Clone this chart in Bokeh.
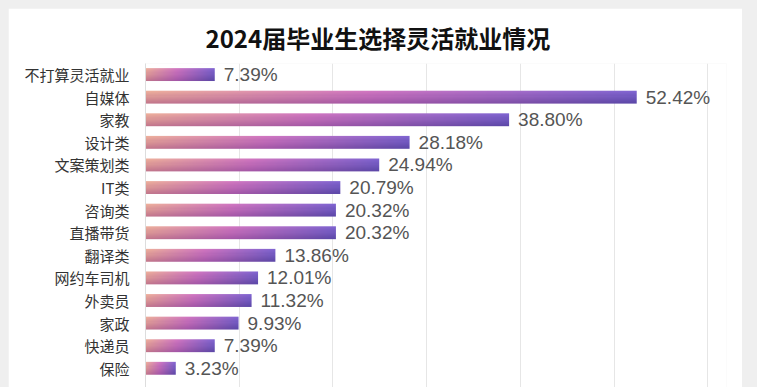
import numpy as np
from bokeh.plotting import figure
from bokeh.models import Range1d, FixedTicker, ColumnDataSource
from bokeh.embed import file_html
from bokeh.resources import INLINE

title_text = "2024届毕业生选择灵活就业情况"
categories = ["不打算灵活就业", "自媒体", "家教", "设计类", "文案策划类", "IT类", "咨询类",
              "直播带货", "翻译类", "网约车司机", "外卖员", "家政", "快递员", "保险"]
values = [7.39, 52.42, 38.80, 28.18, 24.94, 20.79, 20.32,
          20.32, 13.86, 12.01, 11.32, 9.93, 7.39, 3.23]
x_ticks = [0, 10, 20, 30, 40, 50, 60]

n = len(categories)
ypos = [n - 1 - i for i in range(n)]
bar_h = 0.57

p = figure(width=734, height=379, output_backend="svg", toolbar_location=None,
           x_range=Range1d(0, 62), y_range=Range1d(-0.85, 13.49),
           min_border_left=137, min_border_right=16, min_border_top=55, min_border_bottom=0)

p.title.text = title_text
p.title.align = "left"
p.title.offset = 60
p.title.text_font = "Noto Sans CJK SC"
p.title.text_font_style = "bold"
p.title.text_font_size = "24px"
p.title.text_color = "#111111"
p.title.standoff = 18

p.outline_line_color = None
p.background_fill_color = "white"
p.border_fill_color = "white"

# gradient colours: horizontal stops, top and bottom rows
stops_t = [0.0, 0.45, 1.0]
top_cols = np.array([[242, 182, 158], [214, 122, 196], [132, 104, 214]], dtype=float)
bot_cols = np.array([[196, 120, 140], [166, 88, 168], [92, 72, 168]], dtype=float)

W, H = 256, 12
tt = np.linspace(0, 1, W)
def interp(cols):
    return np.stack([np.interp(tt, stops_t, cols[:, c]) for c in range(3)], axis=1)
top_row = interp(top_cols)
bot_row = interp(bot_cols)
img = np.zeros((H, W), dtype=np.uint32)
view = img.view(dtype=np.uint8).reshape((H, W, 4))
for r in range(H):
    s = r / (H - 1)  # r=0 bottom row
    col = bot_row * (1 - s) + top_row * s
    view[r, :, 0] = col[:, 0].astype(np.uint8)
    view[r, :, 1] = col[:, 1].astype(np.uint8)
    view[r, :, 2] = col[:, 2].astype(np.uint8)
    view[r, :, 3] = 255

imgs = [img.copy() for _ in values]
src_img = ColumnDataSource(dict(image=imgs, x=[0] * n, y=[y - bar_h / 2 for y in ypos],
                                dw=values, dh=[bar_h] * n))
p.image_rgba(image="image", x="x", y="y", dw="dw", dh="dh", source=src_img)

labels = ["%.2f%%" % v for v in values]
src_txt = ColumnDataSource(dict(x=values, y=ypos, t=labels))
p.text(x="x", y="y", text="t", source=src_txt, x_offset=9, text_baseline="middle",
       text_font_size="19px", text_color="#555555", text_font={"value": "Liberation Sans"})

p.xaxis.visible = False
p.xaxis.ticker = FixedTicker(ticks=x_ticks)
p.xgrid.ticker = FixedTicker(ticks=x_ticks)
p.xgrid.grid_line_color = "#e6e6e6"
p.ygrid.grid_line_color = None

p.yaxis.ticker = FixedTicker(ticks=ypos)
p.yaxis.major_label_overrides = {y: c for y, c in zip(ypos, categories)}
p.yaxis.major_tick_line_color = None
p.yaxis.minor_tick_line_color = None
p.yaxis.axis_line_color = "#dddddd"
p.yaxis.major_label_standoff = 10
p.yaxis.major_label_text_font = "Noto Sans CJK SC"
p.yaxis.major_label_text_font_size = "15px"
p.yaxis.major_label_text_color = "#333333"

html = file_html(p, INLINE)
html = html.replace("</head>",
                    "<style>html,body{background:#efefef;overflow:hidden;}"
                    "body{padding:8px 0 0 8px !important;}</style></head>", 1)
open("out.html", "w").write(html)
